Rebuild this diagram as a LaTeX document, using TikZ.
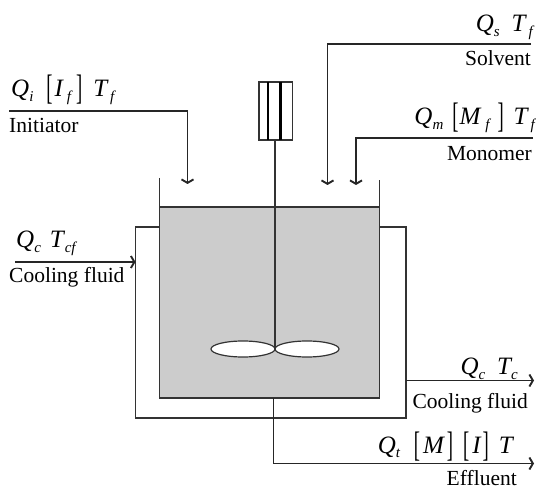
\documentclass[tikz,border=0pt]{standalone}
\usepackage{fontspec}
\setmainfont{Liberation Serif}
\usetikzlibrary{arrows.meta,shapes.geometric}
\newcommand{\sbr}[1]{\raisebox{-3pt}{\scalebox{0.62}[1.18]{\fontsize{30}{30}\selectfont\upshape #1}}}
\newcommand{\subb}[1]{\raisebox{-5pt}{\fontsize{15}{15}\selectfont\itshape #1}}
\tikzset{
  wall/.style={draw=black!80,line width=1.3pt},
  flow/.style={draw=black!85,line width=1.3pt,-{Straight Barb[length=3.5pt,width=12pt,line width=1.9pt]}},
  lab/.style={inner sep=0pt,font=\fontsize{25}{27}\selectfont\itshape},
  txt/.style={inner sep=0pt,font=\fontsize{21.5}{23}\selectfont},
}
\begin{document}
\begin{tikzpicture}[x=1pt,y=-1pt]
\useasboundingbox (0,0) rectangle (536,489);
% named points
\coordinate (tankTL) at (159.5,207);
\coordinate (tankBR) at (379.5,398);
\coordinate (wallL) at (159.5,178);
\coordinate (wallR) at (379.5,180);
\coordinate (jTL) at (135.5,227);
\coordinate (jBR) at (406,418);
\coordinate (hub) at (275,349);
\coordinate (shaftTop) at (275,140);
% jacket
\draw[wall] (tankTL |- jTL) -- (jTL) -- (jTL |- jBR) -- (jBR) -- (jBR |- jTL) -- (tankBR |- jTL);
% tank
\fill[black!20] (tankTL) rectangle (tankBR);
\draw[wall] (wallL) -- (tankTL |- tankBR) -- (tankBR) -- (wallR);
\draw[wall] (tankTL) -- (tankTL -| tankBR);
% motor
\node[draw=black!80,line width=1.3pt,fill=white,minimum width=33.5pt,minimum height=58pt,inner sep=0pt] (motor) at (275.8,111) {};
\draw[line width=2.2pt,draw=black] (268,82) -- (268,140);
\draw[line width=2.2pt,draw=black] (280.5,82) -- (280.5,140);
% blades
\node[draw=black!80,line width=1.2pt,fill=white,ellipse,minimum width=64pt,minimum height=16pt,inner sep=0pt] (bladeL) at (243,349) {};
\node[draw=black!80,line width=1.2pt,fill=white,ellipse,minimum width=64pt,minimum height=16pt,inner sep=0pt] (bladeR) at (307,349) {};
% shaft
\draw[wall] (shaftTop) -- (hub);
% feeds
\coordinate (iniS) at (9,111); \coordinate (iniE) at (187.5,184);
\coordinate (solS) at (531,44); \coordinate (solE) at (327.5,185);
\coordinate (monS) at (533,138); \coordinate (monE) at (356,185);
\draw[flow] (iniS) -| (iniE);
\draw[flow] (solS) -| (solE);
\draw[flow] (monS) -| (monE);
% cooling
\coordinate (cinS) at (15,262); \coordinate (cinE) at (135.5,262);
\draw[flow] (cinS) -- (cinE);
\coordinate (coutS) at (406,380.5); \coordinate (coutE) at (534,380.5);
\draw[flow] (coutS) -- (coutE);
% effluent
\coordinate (effS) at (273.5,398); \coordinate (effE) at (534,463.5);
\draw[flow] (effS) |- (effE);
% labels
\node[lab,anchor=base west] (l1) at (11,97) {Q\subb{i}\kern13pt\sbr{[}\kern2pt I\subb{\kern4pt f}\kern5pt\sbr{]}\kern11pt T\subb{\kern3pt f}};
\node[txt,anchor=base west] (t1) at (9,133) {Initiator};
\node[lab,anchor=base east] (l2) at (533,32) {Q\subb{s}\kern12pt T\subb{\kern3pt f}};
\node[txt,anchor=base east] (t2) at (531,66) {Solvent};
\node[lab,anchor=base east] (l3) at (535,125) {Q\subb{m}\kern9pt\sbr{[}\kern1pt M\subb{\kern5pt f}\kern8pt\sbr{]}\kern10pt T\subb{\kern3pt f}};
\node[txt,anchor=base east] (t3) at (532,161) {Monomer};
\node[lab,anchor=base west] (l4) at (16,248) {Q\subb{c}\kern9pt T\subb{\kern1pt cf}};
\node[txt,anchor=base west] (t4) at (9,283) {Cooling fluid};
\node[lab,anchor=base east] (l5) at (518,374) {Q\subb{c}\kern12pt T\subb{c}};
\node[txt,anchor=base east] (t5) at (528,408) {Cooling fluid};
\node[lab,anchor=base east] (l6) at (513,453) {Q\subb{t}\kern14pt\sbr{[}\kern3pt M\kern3pt\sbr{]}\kern10pt\sbr{[}\kern3pt I\kern2pt\sbr{]}\kern10pt T};
\node[txt,anchor=base east] (t6) at (517,485) {Effluent};
\end{tikzpicture}
\end{document}
